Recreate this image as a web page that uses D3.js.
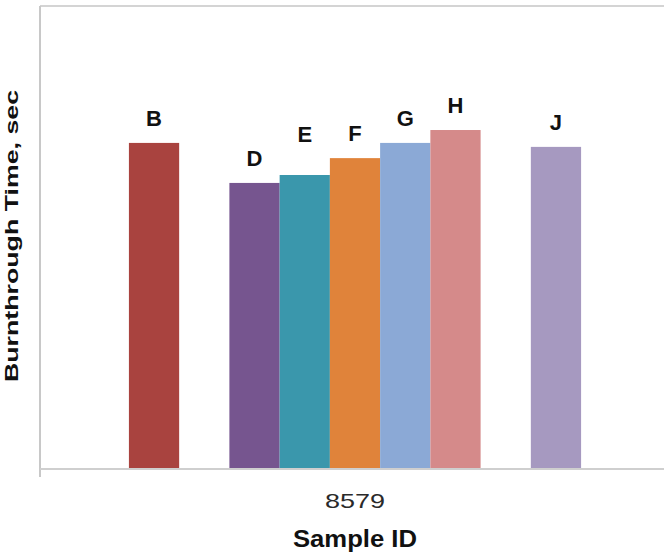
<!DOCTYPE html>
<html><head><meta charset="utf-8">
<script src="https://cdn.jsdelivr.net/npm/d3@7/dist/d3.min.js"></script>
<style>body{margin:0;background:#fff;}svg{display:block;font-family:"Liberation Sans",Arial,sans-serif;}</style>
</head><body>
<script>
const categories = ["8579"];
const seriesNames = ["B","C","D","E","F","G","H","I","J"];
const seriesValues = [98.6, null, 86.5, 88.9, 94.0, 98.6, 102.5, null, 97.4];
const seriesColors = ["#a9433f","#ffffff","#76558f","#3a97ac","#e0833a","#8ba9d6","#d58a8a","#ffffff","#a699c0"];
const yDomain = [0, 140];
const xTitle = "Sample ID";
const yTitle = "Burnthrough Time, sec";

const W = 664, H = 557;
const m = {left: 40, top: 6, right: 0, bottom: 88};
const svg = d3.select("body").append("svg").attr("width", W).attr("height", H);
const iw = W - m.left - m.right, ih = H - m.top - m.bottom;

const x0 = d3.scaleBand().domain(categories).range([m.left + 3, m.left + iw + 3]).paddingInner(0).paddingOuter(0.19);
const x1 = d3.scaleBand().domain(seriesNames).range([0, x0.bandwidth()]).padding(0);
const y = d3.scaleLinear().domain(yDomain).range([m.top + ih, m.top]);

// frame lines
svg.append("line").attr("x1", m.left).attr("x2", W).attr("y1", m.top).attr("y2", m.top)
  .attr("stroke", "#d4d4d4").attr("stroke-width", 2);
svg.append("line").attr("x1", m.left).attr("x2", m.left).attr("y1", m.top).attr("y2", m.top + ih + 8)
  .attr("stroke", "#c8c8c8").attr("stroke-width", 2);

const data = seriesNames.map((s, i) => ({s, v: seriesValues[i], c: seriesColors[i]})).filter(d => d.v != null);

const g = svg.append("g").selectAll("g").data(categories).join("g")
  .attr("transform", d => `translate(${x0(d)},0)`);

g.selectAll("rect").data(data).join("rect")
  .attr("x", d => x1(d.s)).attr("width", x1.bandwidth())
  .attr("y", d => y(d.v)).attr("height", d => y(0) - y(d.v))
  .attr("fill", d => d.c);

g.selectAll("text.lbl").data(data).join("text").attr("class", "lbl")
  .attr("x", d => x1(d.s) + x1.bandwidth() / 2)
  .attr("y", d => y(d.v) - (d.s === "E" ? 33 : 17))
  .attr("text-anchor", "middle").attr("font-weight", "bold").attr("font-size", 22)
  .attr("fill", "#111").text(d => d.s);

// baseline
svg.append("line").attr("x1", m.left).attr("x2", W).attr("y1", y(0)).attr("y2", y(0))
  .attr("stroke", "#cfcfcf").attr("stroke-width", 2);

// x axis tick label
const xAxis = d3.axisBottom(x0).tickSize(0).tickPadding(0);
const xa = svg.append("g").attr("transform", `translate(0,${y(0)})`).call(xAxis);
xa.select(".domain").remove();
xa.selectAll("text").attr("dy", null).attr("y", 39).attr("font-size", 21).attr("fill", "#2a2a2a")
  .attr("font-family", "Liberation Sans, Arial, sans-serif")
  .attr("textLength", 60).attr("lengthAdjust", "spacingAndGlyphs");

// titles
svg.append("text").attr("x", m.left + 3 + iw / 2).attr("y", 547)
  .attr("text-anchor", "middle").attr("font-weight", "bold").attr("font-size", 23).attr("fill", "#111")
  .attr("textLength", 124).attr("lengthAdjust", "spacingAndGlyphs").text(xTitle);
svg.append("text").attr("transform", `translate(18,236) rotate(-90)`)
  .attr("text-anchor", "middle").attr("font-weight", "bold").attr("font-size", 19).attr("fill", "#111")
  .attr("textLength", 292).attr("lengthAdjust", "spacingAndGlyphs").text(yTitle);
</script>
</body></html>
